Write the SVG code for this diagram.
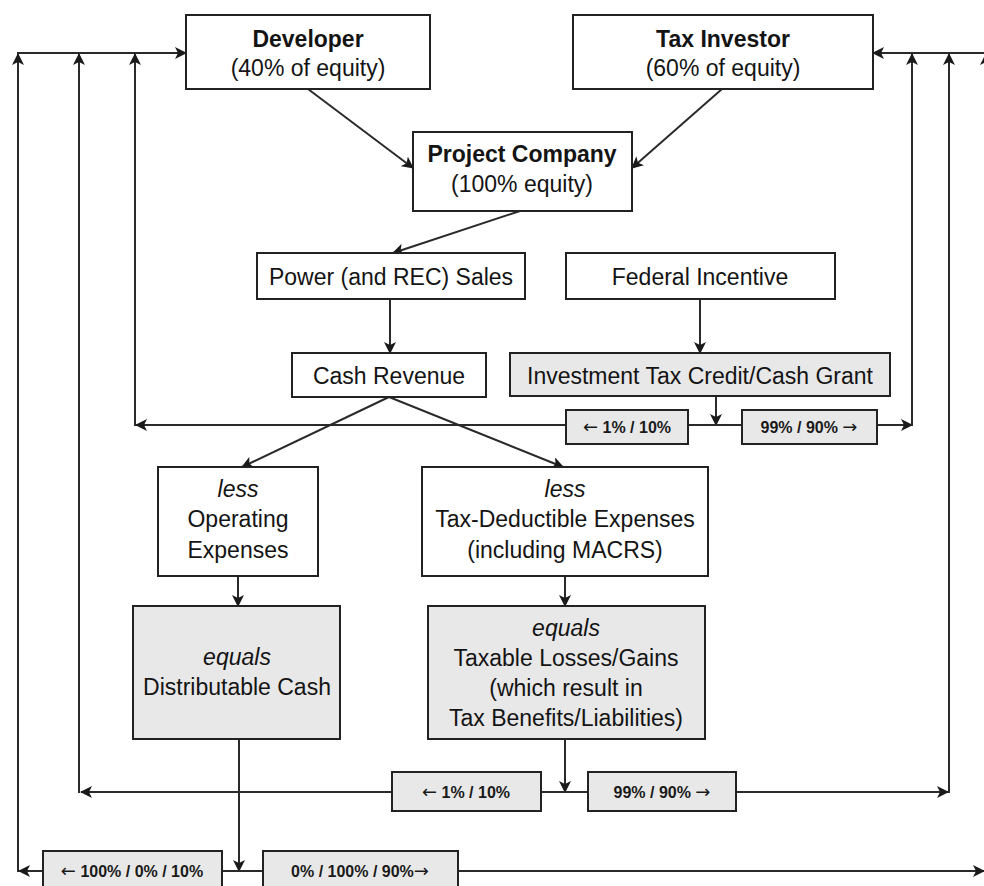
<svg xmlns="http://www.w3.org/2000/svg" width="984" height="886" viewBox="0 0 984 886">
  <defs>
    <marker id="arr" viewBox="0 0 12 12" refX="11" refY="6" markerWidth="12" markerHeight="12" markerUnits="userSpaceOnUse" orient="auto">
      <path d="M0,0 L12,6 L0,12 L3,6 z" fill="#1a1a1a"/>
    </marker>
    <style>
      .box { fill: #ffffff; stroke: #222222; stroke-width: 2; }
      .shade { fill: #e8e8e8; stroke: #222222; stroke-width: 2; }
      .t { font-family: "Liberation Sans", Arial, sans-serif; font-size: 23px; fill: #141414; text-anchor: middle; }
      .b { font-weight: bold; }
      .i { font-style: italic; }
      .s { font-family: "Liberation Sans", Arial, sans-serif; font-size: 16px; font-weight: bold; fill: #1a1a1a; text-anchor: middle; }
      .g { font-family: "DejaVu Sans", sans-serif; font-size: 18px; font-weight: normal; }
      .ln { fill: none; stroke: #2a2a2a; stroke-width: 2; }
      .ar { fill: none; stroke: #2a2a2a; stroke-width: 2; marker-end: url(#arr); }
    </style>
  </defs>
  <rect width="984" height="886" fill="#ffffff"/>

  <!-- connectors -->
  <g id="connectors">
    <!-- equity contributions -->
    <line class="ar" x1="308" y1="89" x2="413" y2="168"/>
    <line class="ar" x1="722" y1="89" x2="632" y2="168"/>
    <line class="ar" x1="520" y1="211" x2="393" y2="253"/>
    <line class="ar" x1="390" y1="299" x2="390" y2="353"/>
    <line class="ar" x1="700" y1="299" x2="700" y2="353"/>
    <line class="ar" x1="716" y1="396" x2="716" y2="425"/>

    <!-- ITC split -->
    <line class="ln" x1="688" y1="425" x2="742" y2="425"/>
    <line class="ar" x1="566" y1="425" x2="136" y2="425"/>
    <line class="ar" x1="877" y1="425" x2="912" y2="425"/>
    <line class="ar" x1="135" y1="426" x2="135" y2="54"/>
    <line class="ar" x1="912" y1="426" x2="912" y2="54"/>

    <!-- cash revenue branches -->
    <line class="ar" x1="389" y1="397" x2="242" y2="467"/>
    <line class="ar" x1="389" y1="397" x2="563" y2="467"/>
    <line class="ar" x1="238" y1="576" x2="238" y2="606"/>
    <line class="ar" x1="565" y1="576" x2="565" y2="606"/>

    <!-- tax benefit split -->
    <line class="ar" x1="565" y1="739" x2="565" y2="792"/>
    <line class="ln" x1="541" y1="792" x2="588" y2="792"/>
    <line class="ar" x1="392" y1="792" x2="81" y2="792"/>
    <line class="ar" x1="736" y1="792" x2="948" y2="792"/>
    <line class="ar" x1="79" y1="793" x2="79" y2="54"/>
    <line class="ar" x1="949" y1="793" x2="949" y2="54"/>

    <!-- cash distribution split -->
    <line class="ar" x1="239" y1="739" x2="239" y2="871"/>
    <line class="ln" x1="222" y1="871" x2="263" y2="871"/>
    <line class="ar" x1="43" y1="871" x2="19" y2="871"/>
    <line class="ar" x1="458" y1="871" x2="984" y2="871"/>
    <line class="ar" x1="18" y1="872" x2="18" y2="54"/>
    <line class="ar" x1="986" y1="872" x2="986" y2="54"/>

    <!-- top collector lines -->
    <line class="ar" x1="17" y1="53" x2="186" y2="53"/>
    <line class="ar" x1="990" y1="53" x2="873" y2="53"/>
  </g>

  <g id="developer">
    <rect class="box" x="186" y="15" width="244" height="74"/>
    <text class="t b" x="308" y="47">Developer</text>
    <text class="t" x="308" y="76">(40% of equity)</text>
  </g>

  <g id="tax-investor">
    <rect class="box" x="573" y="15" width="300" height="74"/>
    <text class="t b" x="723" y="47">Tax Investor</text>
    <text class="t" x="723" y="76">(60% of equity)</text>
  </g>

  <g id="project-company">
    <rect class="box" x="413" y="132" width="219" height="79"/>
    <text class="t b" x="522" y="162">Project Company</text>
    <text class="t" x="522" y="192">(100% equity)</text>
  </g>

  <g id="power-sales">
    <rect class="box" x="257" y="253" width="268" height="46"/>
    <text class="t" x="391" y="285">Power (and REC) Sales</text>
  </g>

  <g id="federal-incentive">
    <rect class="box" x="566" y="253" width="269" height="46"/>
    <text class="t" x="700" y="285">Federal Incentive</text>
  </g>

  <g id="cash-revenue">
    <rect class="box" x="292" y="353" width="194" height="44"/>
    <text class="t" x="389" y="384">Cash Revenue</text>
  </g>

  <g id="itc-grant">
    <rect class="shade" x="510" y="353" width="380" height="43"/>
    <text class="t" x="700" y="384">Investment Tax Credit/Cash Grant</text>
  </g>

  <g id="itc-split-left">
    <rect class="shade" x="566" y="410" width="122" height="34"/>
    <text class="s" x="627" y="433"><tspan class="g">←</tspan> 1% / 10%</text>
  </g>

  <g id="itc-split-right">
    <rect class="shade" x="742" y="410" width="135" height="34"/>
    <text class="s" x="809" y="433">99% / 90% <tspan class="g">→</tspan></text>
  </g>

  <g id="operating-expenses">
    <rect class="box" x="158" y="467" width="160" height="109"/>
    <text class="t i" x="238" y="497">less</text>
    <text class="t" x="238" y="527">Operating</text>
    <text class="t" x="238" y="558">Expenses</text>
  </g>

  <g id="tax-deductible-expenses">
    <rect class="box" x="422" y="467" width="286" height="109"/>
    <text class="t i" x="565" y="497">less</text>
    <text class="t" x="565" y="527">Tax-Deductible Expenses</text>
    <text class="t" x="565" y="558">(including MACRS)</text>
  </g>

  <g id="distributable-cash">
    <rect class="shade" x="133" y="606" width="207" height="133"/>
    <text class="t i" x="237" y="665">equals</text>
    <text class="t" x="237" y="695">Distributable Cash</text>
  </g>

  <g id="taxable-gains">
    <rect class="shade" x="428" y="606" width="277" height="133"/>
    <text class="t i" x="566" y="636">equals</text>
    <text class="t" x="566" y="666">Taxable Losses/Gains</text>
    <text class="t" x="566" y="696">(which result in</text>
    <text class="t" x="566" y="726">Tax Benefits/Liabilities)</text>
  </g>

  <g id="tax-split-left">
    <rect class="shade" x="392" y="772" width="149" height="39"/>
    <text class="s" x="466" y="798"><tspan class="g">←</tspan> 1% / 10%</text>
  </g>

  <g id="tax-split-right">
    <rect class="shade" x="588" y="772" width="148" height="39"/>
    <text class="s" x="662" y="798">99% / 90% <tspan class="g">→</tspan></text>
  </g>

  <g id="cash-split-left">
    <rect class="shade" x="43" y="851" width="179" height="40"/>
    <text class="s" x="132" y="877"><tspan class="g">←</tspan> 100% / 0% / 10%</text>
  </g>

  <g id="cash-split-right">
    <rect class="shade" x="263" y="851" width="195" height="40"/>
    <text class="s" x="360" y="877">0% / 100% / 90%<tspan class="g">→</tspan></text>
  </g>
</svg>
